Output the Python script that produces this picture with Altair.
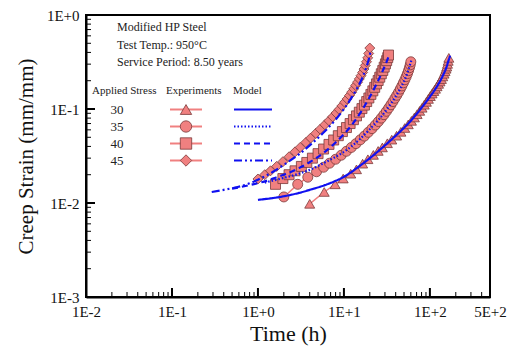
import altair as alt
import pandas as pd

# ---------------- data ----------------
stress_levels = ["30", "35", "40", "45"]

t30 = [4.0, 5.9, 7.9, 9.8, 12, 14, 16.5, 19, 22, 25, 28, 32, 36, 41, 46, 51, 56, 61, 66, 71, 76, 81, 86, 91,
       96, 101, 106, 111, 116, 121, 126, 131, 136, 141, 146, 150, 154, 157, 160, 163, 166]
s30 = [0.0098, 0.0131, 0.0158, 0.0182, 0.0205, 0.0228, 0.0262, 0.0292, 0.0325, 0.0358, 0.0390, 0.0432, 0.0472,
       0.0520, 0.0572, 0.0628, 0.0686, 0.0748, 0.0812, 0.0880, 0.0955, 0.103, 0.111, 0.119, 0.128, 0.137, 0.146,
       0.155, 0.164, 0.174, 0.185, 0.196, 0.208, 0.222, 0.237, 0.252, 0.268, 0.283, 0.302, 0.325, 0.350]

t35 = [2.0, 2.9, 3.8, 4.8, 5.8, 6.8, 8.0, 9.3, 10.7, 12.2, 13.8, 15.5, 17.3, 19.2, 21.2, 23.2, 25.2, 27.2, 29.2,
       31.2, 33.2, 35.2, 37.2, 39.2, 41.2, 43.2, 45.2, 47.2, 49.2, 51.2, 53.0, 54.8, 56.4, 57.8, 59.0, 60.0]
s35 = [0.0116, 0.0158, 0.0188, 0.0215, 0.0240, 0.0265, 0.0292, 0.0322, 0.0355, 0.0390, 0.0428, 0.0470, 0.0515,
       0.0565, 0.0618, 0.0675, 0.0735, 0.0800, 0.0870, 0.0945, 0.1025, 0.111, 0.120, 0.130, 0.140, 0.151, 0.163,
       0.176, 0.190, 0.205, 0.221, 0.238, 0.256, 0.275, 0.295, 0.318]

t40 = [1.6, 1.95, 2.3, 2.7, 3.2, 3.7, 4.3, 5.0, 5.8, 6.7, 7.6, 8.6, 9.6, 10.7, 11.8, 12.9, 14.0, 15.1, 16.2,
       17.3, 18.4, 19.5, 20.6, 21.7, 22.8, 23.9, 25.0, 26.1, 27.2, 28.3, 29.4, 30.4, 31.4, 32.3, 33.0]
s40 = [0.0158, 0.0182, 0.0200, 0.0220, 0.0245, 0.0270, 0.0300, 0.0335, 0.0375, 0.0420, 0.0468, 0.0520, 0.0575,
       0.0635, 0.0700, 0.0770, 0.0845, 0.0925, 0.101, 0.110, 0.120, 0.131, 0.143, 0.156, 0.170, 0.185, 0.201,
       0.218, 0.237, 0.257, 0.279, 0.302, 0.327, 0.352, 0.375]

t45 = [1.0, 1.2, 1.4, 1.65, 1.95, 2.3, 2.7, 3.1, 3.6, 4.1, 4.7, 5.3, 6.0, 6.7, 7.4, 8.1, 8.8, 9.5, 10.2, 10.9,
       11.6, 12.3, 13.0, 13.7, 14.4, 15.1, 15.8, 16.5, 17.1, 17.7, 18.3, 18.9, 19.4, 20.0]
s45 = [0.0180, 0.0200, 0.0220, 0.0245, 0.0275, 0.0310, 0.0350, 0.0390, 0.0440, 0.0490, 0.0550, 0.0610, 0.0680,
       0.0750, 0.0825, 0.0905, 0.0990, 0.108, 0.118, 0.128, 0.139, 0.151, 0.164, 0.178, 0.193, 0.209, 0.226,
       0.245, 0.266, 0.290, 0.318, 0.350, 0.390, 0.445]

mt30 = [1.0, 1.5, 2, 3, 4, 6, 8, 10, 15, 20, 30, 40, 60, 80, 100, 120, 140, 155, 165, 172]
ms30 = [0.0108, 0.0113, 0.0118, 0.0128, 0.0138, 0.0155, 0.0172, 0.0190, 0.0245, 0.0300, 0.0410, 0.0520,
        0.0750, 0.103, 0.135, 0.172, 0.222, 0.275, 0.330, 0.370]
mt35 = [1.2, 2, 3, 4, 6, 8, 10, 15, 20, 25, 30, 35, 40, 45, 50, 55, 59, 61]
ms35 = [0.0165, 0.0185, 0.0205, 0.0225, 0.027, 0.031, 0.035, 0.047, 0.061, 0.076, 0.093, 0.113, 0.136,
        0.164, 0.198, 0.245, 0.300, 0.330]
mt40 = [0.5, 0.8, 1.2, 1.6, 2, 3, 4, 6, 8, 10, 13, 16, 20, 24, 28, 31, 33]
ms40 = [0.0142, 0.0155, 0.0170, 0.0186, 0.0200, 0.0235, 0.0272, 0.0350, 0.0440, 0.0540, 0.0720, 0.095,
        0.135, 0.185, 0.250, 0.310, 0.360]
mt45 = [0.29, 0.4, 0.58, 0.8, 1.0, 1.5, 2, 3, 4, 6, 8, 10, 12, 14, 16, 18, 19.5, 20.3]
ms45 = [0.0131, 0.0138, 0.0148, 0.0162, 0.0177, 0.0215, 0.0255, 0.0330, 0.0410, 0.0580, 0.0770, 0.100,
        0.128, 0.162, 0.205, 0.270, 0.340, 0.400]

x_tick_values = [0.01, 0.1, 1, 10, 100, 500]
x_tick_labels = ["1E-2", "1E-1", "1E+0", "1E+1", "1E+2", "5E+2"]
y_tick_values = [0.001, 0.01, 0.1, 1]
y_tick_labels = ["1E-3", "1E-2", "1E-1", "1E+0"]

x_minor = [m * 10.0 ** e for e in (-2, -1, 0, 1) for m in range(2, 10)] + [200, 300, 400]
y_minor = [m * 10.0 ** e for e in (-3, -2, -1) for m in range(2, 10)]

info_lines = ["Modified HP Steel", "Test Temp.: 950\u00b0C", "Service Period: 8.50 years"]
legend_headers = ["Applied Stress", "Experiments", "Model"]

# ---------------- build tables ----------------
exp_rows = []
for lvl, ts, ss in zip(stress_levels, [t30, t35, t40, t45], [s30, s35, s40, s45]):
    for i, (t, s) in enumerate(zip(ts, ss)):
        exp_rows.append({"stress": lvl, "t": t, "s": s, "i": i})
exp_df = pd.DataFrame(exp_rows)

mod_rows = []
for lvl, ts, ss in zip(stress_levels, [mt30, mt35, mt40, mt45], [ms30, ms35, ms40, ms45]):
    for i, (t, s) in enumerate(zip(ts, ss)):
        mod_rows.append({"stress": lvl, "t": t, "s": s, "i": i})
mod_df = pd.DataFrame(mod_rows)

W, H = 404, 282
SERIF = "Liberation Serif"
SALMON = "#F08080"
EDGE = "#7a3a3a"
BLUE = "#1010F0"

xscale = alt.Scale(type="log", domain=[0.01, 500], nice=False)
yscale = alt.Scale(type="log", domain=[0.001, 1], nice=False)

shape_scale = alt.Scale(domain=stress_levels, range=["triangle-up", "circle", "square", "diamond"])
dash_scale = alt.Scale(domain=stress_levels, range=[[1, 0], [1.5, 2], [6, 4], [8, 3, 2, 3, 2, 3]])

x_label_expr = "{}[indexof({}, datum.value)]".format(
    "[" + ",".join("'%s'" % l for l in x_tick_labels) + "]",
    "[" + ",".join(repr(v) for v in x_tick_values) + "]")
y_label_expr = "{}[indexof({}, datum.value)]".format(
    "[" + ",".join("'%s'" % l for l in y_tick_labels) + "]",
    "[" + ",".join(repr(v) for v in y_tick_values) + "]")

base = alt.Chart(exp_df)

exp_line = base.mark_line(color=SALMON, strokeWidth=1.5).encode(
    x=alt.X("t:Q", scale=xscale, title="Time (h)",
            axis=alt.Axis(values=x_tick_values, labelExpr=x_label_expr, ticks=False, grid=False,
                          labelFont=SERIF, labelFontSize=15, labelColor="#111", labelPadding=7,
                          titleFont=SERIF, titleFontSize=22, titleFontWeight="normal", titleColor="#111",
                          titlePadding=4, domainColor="black", domainWidth=2, labelFlush=False)),
    y=alt.Y("s:Q", scale=yscale, title="Creep Strain (mm/mm)",
            axis=alt.Axis(values=y_tick_values, labelExpr=y_label_expr, ticks=False, grid=False,
                          labelFont=SERIF, labelFontSize=15, labelColor="#111", labelPadding=7,
                          titleFont=SERIF, titleFontSize=21, titleFontWeight="normal", titleColor="#111",
                          titlePadding=10, domainColor="black", domainWidth=2, labelFlush=False)),
    detail="stress:N",
    order="i:Q",
)

exp_pts = base.mark_point(filled=True, fill=SALMON, stroke=EDGE, strokeWidth=0.8, opacity=1, size=100).encode(
    x=alt.X("t:Q", scale=xscale),
    y=alt.Y("s:Q", scale=yscale),
    shape=alt.Shape("stress:N", scale=shape_scale, legend=None),
)

model = alt.Chart(mod_df).mark_line(color=BLUE, strokeWidth=2.2, interpolate="monotone").encode(
    x=alt.X("t:Q", scale=xscale),
    y=alt.Y("s:Q", scale=yscale),
    strokeDash=alt.StrokeDash("stress:N", scale=dash_scale, legend=None),
    detail="stress:N",
    order="i:Q",
)

# inside tick marks
xmaj = alt.Chart(pd.DataFrame({"t": x_tick_values[1:-1]})).mark_rule(color="black", strokeWidth=2).encode(
    x=alt.X("t:Q", scale=xscale), y=alt.value(H), y2=alt.value(H - 9))
xmin = alt.Chart(pd.DataFrame({"t": x_minor})).mark_rule(color="black", strokeWidth=1).encode(
    x=alt.X("t:Q", scale=xscale), y=alt.value(H), y2=alt.value(H - 5))
ymaj = alt.Chart(pd.DataFrame({"s": y_tick_values[1:-1]})).mark_rule(color="black", strokeWidth=2).encode(
    y=alt.Y("s:Q", scale=yscale), x=alt.value(0), x2=alt.value(9))
ymin = alt.Chart(pd.DataFrame({"s": y_minor})).mark_rule(color="black", strokeWidth=1).encode(
    y=alt.Y("s:Q", scale=yscale), x=alt.value(0), x2=alt.value(5))

# annotation block
info_df = pd.DataFrame({"txt": info_lines, "py": [12 + 17.5 * k for k in range(len(info_lines))]})
info = alt.Chart(info_df).mark_text(align="left", baseline="middle", font=SERIF, fontSize=12,
                                    color="#222").encode(
    x=alt.value(31), y=alt.Y("py:Q", scale=None), text="txt:N")

hdr_df = pd.DataFrame({"txt": legend_headers, "px": [6, 80, 147]})
hdr = alt.Chart(hdr_df).mark_text(align="left", baseline="middle", font=SERIF, fontSize=11,
                                  color="#222").encode(
    x=alt.X("px:Q", scale=None), y=alt.value(76), text="txt:N")

leg_df = pd.DataFrame({"stress": stress_levels, "py": [94.5 + 17 * k for k in range(4)]})
leg_lab = alt.Chart(leg_df).mark_text(align="center", baseline="middle", font=SERIF, fontSize=13,
                                      color="#222").encode(
    x=alt.value(31), y=alt.Y("py:Q", scale=None), text="stress:N")
leg_eline = alt.Chart(leg_df).mark_rule(color=SALMON, strokeWidth=2).encode(
    x=alt.value(84), x2=alt.value(116), y=alt.Y("py:Q", scale=None))
leg_pt = alt.Chart(leg_df).mark_point(filled=True, fill=SALMON, stroke=EDGE, strokeWidth=0.8,
                                      opacity=1, size=130).encode(
    x=alt.value(100), y=alt.Y("py:Q", scale=None),
    shape=alt.Shape("stress:N", scale=shape_scale, legend=None))
leg_mline = alt.Chart(leg_df).mark_rule(color=BLUE, strokeWidth=1.8).encode(
    x=alt.value(148), x2=alt.value(186), y=alt.Y("py:Q", scale=None),
    strokeDash=alt.StrokeDash("stress:N", scale=dash_scale, legend=None))

chart = alt.layer(
    exp_line, exp_pts, model, xmaj, xmin, ymaj, ymin,
    info, hdr, leg_lab, leg_eline, leg_pt, leg_mline,
).properties(
    width=W, height=H,
    autosize=alt.AutoSizeParams(type="none"),
    padding={"left": 86, "top": 15, "right": 23, "bottom": 52},
    background="white",
).configure_view(
    stroke="black", strokeWidth=2
)

chart.save("out.html", embed_options={"renderer": "svg", "actions": False})
